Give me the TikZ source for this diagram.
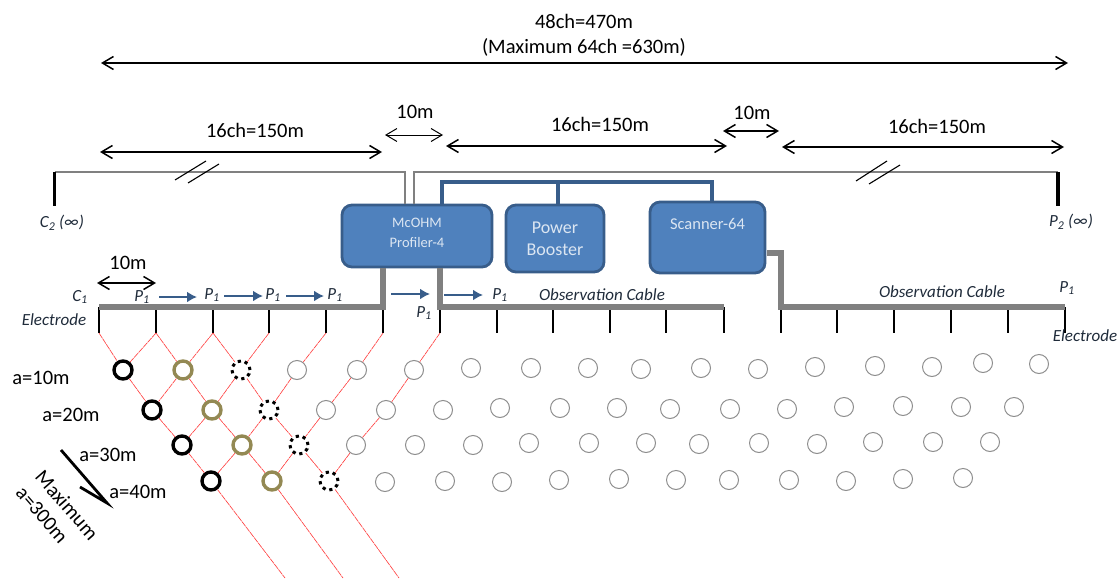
\documentclass[tikz,border=0pt]{standalone}
\usepackage{fontspec}
\setmainfont{Carlito}
\usetikzlibrary{arrows.meta,positioning}
\definecolor{unitfill}{HTML}{4F81BD}
\definecolor{unitedge}{HTML}{385D8A}
\definecolor{unittext}{HTML}{DCE6F2}
\definecolor{cablegray}{HTML}{808080}
\definecolor{ringolive}{HTML}{938953}
\definecolor{ringgray}{HTML}{8E8E8E}
\definecolor{noteink}{HTML}{1F2B3A}
\newcommand{\subone}{\textsubscript{1}}

\begin{document}
\begin{tikzpicture}[
        x=1pt,y=-1pt,>={Straight Barb[length=11pt,width=13pt]},
        span/.style={<->,line width=1.5pt,black},
        spanthin/.style={<->,line width=1pt,black},
        txt/.style={align=center,inner sep=0pt,font=\fontsize{20.5}{25}\selectfont},
        note/.style={align=center,inner sep=0pt,text=noteink,font=\fontsize{17}{20}\selectfont\itshape},
        unit/.style={rounded corners=10pt,draw=unitedge,fill=unitfill,line width=2.8pt,text=unittext,align=center,inner sep=0pt},
        cable/.style={draw=cablegray,line width=5.5pt,line cap=butt,line join=miter},
        wire/.style={draw=cablegray,line width=1.4pt},
        bus/.style={draw=unitedge,line width=3.3pt},
        stake/.style={draw=black,line width=3.3pt},
        slash/.style={draw=black,line width=1.1pt},
        tick/.style={draw=black,line width=1.3pt},
        flow/.style={-{Latex[length=10pt,width=11pt]},draw=unitedge,line width=2.6pt},
        ray/.style={draw=red!75,line width=.65pt,dash pattern=on 6pt off .7pt},
        ringblack/.style={circle,draw=black,fill=white,line width=3.4pt,minimum size=18pt,inner sep=0pt},
        ringolive/.style={circle,draw=ringolive,fill=white,line width=3.4pt,minimum size=18pt,inner sep=0pt},
        ringdot/.style={circle,draw=black,fill=white,line width=3pt,dash pattern=on 3.2pt off 3.87pt,minimum size=18pt,inner sep=0pt},
        ringgray/.style={circle,draw=ringgray,fill=white,line width=1pt,minimum size=19pt,inner sep=0pt}
      ]
        \useasboundingbox (0,0) rectangle (1118,578);

        % spans
        \node[txt] (total) at (584,35.5) {48ch=470m\\(Maximum 64ch =630m)};
        \coordinate (totalL) at (101,63);
        \coordinate (totalR) at (1068,63);
        \draw[span] (totalL) -- (totalR);
        \node[txt] (spanA) at (255,130) {16ch=150m};
        \coordinate (spanAL) at (100,152);
        \coordinate (spanAR) at (382,152);
        \draw[span] (spanAL) -- (spanAR);
        \node[txt] (gapA) at (415,112) {10m};
        \coordinate (gapAL) at (385,135);
        \coordinate (gapAR) at (443,135);
        \draw[spanthin] (gapAL) -- (gapAR);
        \node[txt] (spanB) at (600,124) {16ch=150m};
        \coordinate (spanBL) at (446,146);
        \coordinate (spanBR) at (727,146);
        \draw[span] (spanBL) -- (spanBR);
        \node[txt] (gapB) at (752,113) {10m};
        \coordinate (gapBL) at (723,131);
        \coordinate (gapBR) at (779,131);
        \draw[span] (gapBL) -- (gapBR);
        \node[txt] (spanC) at (937,126) {16ch=150m};
        \coordinate (spanCL) at (782,147);
        \coordinate (spanCR) at (1064,147);
        \draw[span] (spanCL) -- (spanCR);
        \node[txt] (pitch) at (128,263) {10m};
        \coordinate (pitchL) at (97,283);
        \coordinate (pitchR) at (156,283);
        \draw[span] (pitchL) -- (pitchR);

        % units
        \node[unit,minimum width=150pt,minimum height=62pt,font=\fontsize{14.5}{19}\selectfont] (profiler) at (417,236) {\raisebox{-11pt}[0pt][0pt]{\shortstack{McOHM\\[6.5pt]Profiler-4}}};
        \node[unit,minimum width=98pt,minimum height=67pt,font=\fontsize{18}{22}\selectfont] (booster) at (555,238.5) {Power\\Booster};
        \node[unit,minimum width=115pt,minimum height=71pt,font=\fontsize{16.5}{20}\selectfont] (scanner) at (707.5,237.5) {\raisebox{8.5pt}[0pt][0pt]{Scanner-64}};

        \coordinate (busL) at (442,182);
        \coordinate (busM) at (558,182);
        \coordinate (busR) at (712,182);
        \draw[bus] (busL |- profiler.north) -- (busL) -- (busR) -- (busR |- scanner.north);
        \draw[bus] (busM) -- (busM |- booster.north);

        % far electrodes
        \coordinate (c2top) at (54.5,172);
        \coordinate (c2low) at (54.5,206);
        \coordinate (p2top) at (1058,172);
        \coordinate (p2low) at (1058,206);
        \coordinate (wireL) at (405,172);
        \coordinate (wireR) at (414,172);
        \draw[wire] (c2top) -- (wireL) -- (wireL |- profiler.north);
        \draw[wire] (wireR |- profiler.north) -- (wireR) -- (p2top);
        \draw[stake] (c2top) -- (c2low);
        \draw[stake] (p2top) -- (p2low);
        \node[note] (ctwo) at (62,223) {C\textsubscript{2} (∞)};
        \node[note] (ptwo) at (1071,222) {P\textsubscript{2} (∞)};
        \coordinate (breakA) at (175,180); \coordinate (breakAe) at (206,161);
        \coordinate (breakB) at (188,183); \coordinate (breakBe) at (219,164);
        \coordinate (breakC) at (856,181); \coordinate (breakCe) at (887,161);
        \coordinate (breakD) at (869,184); \coordinate (breakDe) at (900,165);
        \draw[slash] (breakA) -- (breakAe);
        \draw[slash] (breakB) -- (breakBe);
        \draw[slash] (breakC) -- (breakCe);
        \draw[slash] (breakD) -- (breakDe);

        % electrodes on the cables
        \foreach \x [count=\i] in {99,156,213,269,326,383,440,497,553,610,666,724,781,837,894,951,1008,1065}{
          \coordinate (e\i) at (\x,307);
          \coordinate (t\i) at (\x,333);
          \draw[tick] (e\i) -- (t\i);
        }
        \coordinate (scanout) at (767,253);
        \draw[cable] (e1) -- (e6) -- (e6 |- profiler.south);
        \draw[cable] (e7 |- profiler.south) -- (e7) -- (e12);
        \draw[cable] (scanout) -- (e13 |- scanout) -- (e13) -- (e18);

        % measuring points
        \foreach \n/\x/\y/\k in {a1/123/370/ringblack,a2/183/370/ringolive,a3/241/370/ringdot,a4/297/370/ringgray,a5/357/370/ringgray,a6/414/370/ringgray,
          b1/152/410/ringblack,b2/212/410/ringolive,b3/269/410/ringdot,b4/326/410/ringgray,b5/386/410/ringgray,
          c1/182/445/ringblack,c2/242/445/ringolive,c3/299/445/ringdot,c4/356/445/ringgray,c5/415/445/ringgray,
          d1/211/481/ringblack,d2/272/481/ringolive,d3/329/481/ringdot,d4/385/482/ringgray}{
          \node[\k] (\n) at (\x,\y) {};
        }
        \foreach \x/\y [count=\i] in {471/368,531/368,588/368,641/369,701/368,758/369,815/367,875/366,932/367,983/363,1039/364,
          443/410,500/408,560/408,617/408,670/409,730/409,787/409,844/407,903/406,961/407,1014/407,
          473/445,529/443,589/443,646/443,699/444,759/443,817/444,873/442,933/442,990/442,
          445/481,502/482,559/480,619/479,676/480,729/480,789/480,846/481,903/479,963/478}{
          \node[ringgray] (g\i) at (\x,\y) {};
        }
        \coordinate (rayA) at (285,578);
        \coordinate (rayB) at (343,578);
        \coordinate (rayC) at (399,578);
        \draw[ray] (t1) -- (a1) -- (b1) -- (c1) -- (d1) -- (rayA);
        \draw[ray] (t2) -- (a2) -- (b2) -- (c2) -- (d2) -- (rayB);
        \draw[ray] (t3) -- (a3) -- (b3) -- (c3) -- (d3) -- (rayC);
        \draw[ray] (t2) -- (a1);
        \draw[ray] (t3) -- (a2) -- (b1);
        \draw[ray] (t4) -- (a3) -- (b2) -- (c1);
        \draw[ray] (t5) -- (a4) -- (b3) -- (c2) -- (d1);
        \draw[ray] (t6) -- (a5) -- (b4) -- (c3) -- (d2);
        \draw[ray] (t7) -- (a6) -- (b5) -- (c4) -- (d3);

        % labels on the cables
        \node[note] (cone) at (80,297) {C\subone};
        \node[note] (elecL) at (54,320) {Electrode};
        \node[note] (elecR) at (1085,336) {Electrode};
        \node[note] (p1a) at (142,297) {P\subone};
        \node[note] (p1b) at (212,295) {P\subone};
        \node[note] (p1c) at (273,295) {P\subone};
        \node[note] (p1d) at (335,295) {P\subone};
        \node[note] (p1e) at (424,313) {P\subone};
        \node[note] (p1f) at (500,295) {P\subone};
        \node[note] (p1g) at (1067,288) {P\subone};
        \node[note] (obsA) at (602,295) {Observation Cable};
        \node[note] (obsB) at (942,292) {Observation Cable};
        \foreach \n/\xa/\ya/\xb/\yb in {a/159/297/197/297,b/224/296/263/296,c/286/296/324/296,d/391/294/430/294,e/444/295/483/295}{
          \coordinate (mv\n s) at (\xa,\ya);
          \coordinate (mv\n e) at (\xb,\yb);
          \draw[flow] (mv\n s) -- (mv\n e);
        }

        % spacing labels
        \node[txt] (a10) at (41,378) {a=10m};
        \node[txt] (a20) at (71,415) {a=20m};
        \node[txt] (a30) at (108,455) {a=30m};
        \node[txt] (a40) at (138,492) {a=40m};
        \node[txt,rotate=-49] (maxi) at (67,505) {Maximum};
        \node[txt,rotate=-49] (a300) at (42,515) {a=300m};
        \coordinate (depthS) at (61,450);
        \coordinate (depthE) at (107,503);
        \coordinate (depthB) at (80,487);
        \draw[line width=2.8pt,line join=miter] (depthS) -- (depthE) -- (depthB);
      \end{tikzpicture}
\end{document}
